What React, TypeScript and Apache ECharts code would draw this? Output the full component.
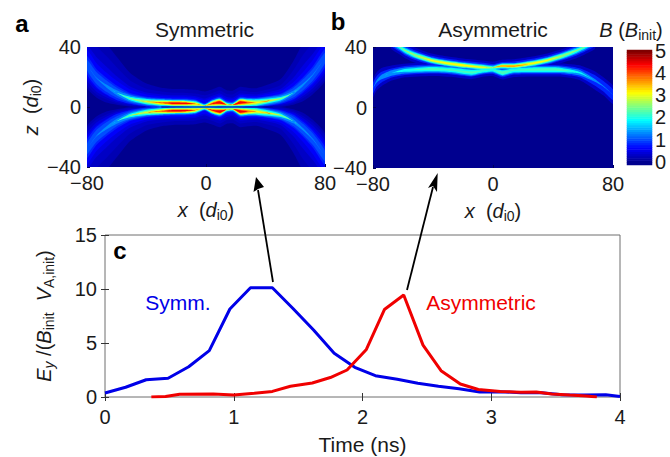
import React, { useEffect, useRef } from "react";
import * as echarts from "echarts";

// Panel c: time series
const timeBlue = [0, 0.16, 0.32, 0.49, 0.65, 0.81, 0.97, 1.13, 1.3, 1.46, 1.62, 1.78, 1.94, 2.1, 2.27, 2.43, 2.59, 2.75, 2.91, 3.07, 3.23, 3.39, 3.55, 3.72, 3.89, 4];
const valueBlue = [0.37, 0.9, 1.6, 1.73, 2.8, 4.3, 8.15, 10.12, 10.12, 8.2, 6.2, 4.05, 2.75, 1.97, 1.64, 1.27, 1.0, 0.77, 0.46, 0.49, 0.4, 0.4, 0.2, 0.18, 0.2, 0.05];
const timeRed = [0.36, 0.47, 0.58, 0.84, 1, 1.16, 1.3, 1.44, 1.61, 1.75, 1.88, 2.03, 2.17, 2.32, 2.47, 2.61, 2.76, 2.9, 3.07, 3.23, 3.35, 3.47, 3.61, 3.74, 3.82];
const valueRed = [0, 0.05, 0.25, 0.28, 0.18, 0.35, 0.52, 1.0, 1.3, 1.8, 2.5, 4.4, 8.1, 9.45, 4.8, 2.44, 1.2, 0.7, 0.52, 0.43, 0.46, 0.28, 0.18, 0.09, 0];

// Panel a: ridge of B, sampled along x (d_i0); mirrored sheet below. Contour half-thicknesses in d_i0.
const symX = [-80, -73.7, -67, -60, -51, -40, -30, -22, -14, -7, -1, 4, 9.3, 14, 18, 23, 28, 34, 50, 58.7, 65.4, 72, 80];
const symZ = [28, 19.4, 14, 9.5, 5.7, 3.6, 2.8, 2.5, 2.4, 2, 0.9, 2.2, 3, 1.6, 1.4, 3, 2.9, 3, 5.5, 9.5, 15, 21.7, 32.7];
const symOut02 = [22, 28, 28, 24, 17, 12, 10, 9.5, 9.5, 9.5, 9.5, 9.5, 10.5, 9.5, 9.5, 10.5, 10, 9.5, 13, 21, 28, 28, 22];
const symIn02 = [15, 13, 11, 8, 5.5, 3.6, 2.8, 2.5, 2.4, 2, 0.9, 2.2, 3, 1.6, 1.4, 3, 2.9, 3, 5.5, 8, 11, 13, 15];
const symOut03 = [17, 21, 20, 17, 12, 8.5, 7.5, 7, 7, 7, 7, 7, 8, 7, 7, 8, 7.5, 7, 9, 15, 20, 21, 17];
const symIn03 = [13, 11, 9, 7, 5, 3.5, 2.8, 2.5, 2.4, 2, 0.9, 2.2, 3, 1.6, 1.4, 3, 2.9, 3, 5, 7, 9, 11, 13];
const symOut045 = [13, 14, 13, 11, 8, 6, 5.6, 5.4, 5.4, 5.2, 4.8, 5.2, 6, 5, 4.8, 6, 5.7, 5.4, 6.5, 10, 13, 14, 13];
const symIn045 = [10, 9, 7.5, 6, 4.2, 3.2, 2.7, 2.4, 2.3, 2, 0.9, 2.1, 3, 1.6, 1.4, 3, 2.8, 2.9, 4.2, 6, 7.5, 9, 10];
const symOut06 = [10, 10, 9, 8, 6, 4.8, 4.4, 4.3, 4.3, 4.1, 3.6, 4.1, 4.9, 3.8, 3.6, 4.9, 4.6, 4.4, 5, 7, 8.5, 10, 10];
const symIn06 = [8, 7, 6, 5, 3.5, 3, 2.6, 2.4, 2.3, 2, 0.9, 2, 2.9, 1.6, 1.4, 2.9, 2.8, 2.8, 3.5, 5, 6, 7, 8];
const symHalf08 = [6, 6, 5.5, 4.8, 3.6, 3.2, 3.2, 3.2, 3.2, 3, 1.6, 3, 3.8, 2.5, 2.2, 3.8, 3.5, 3.4, 3.4, 4.4, 5, 5.6, 6];
const symHalf10 = [3.5, 4, 3.8, 3.3, 2.8, 2.7, 2.8, 2.8, 2.8, 2.5, 1.2, 2.6, 3.3, 2, 1.8, 3.3, 3.1, 3, 2.8, 3.2, 3.6, 3.8, 3.5];
const symHalf13 = [0, 0.3, 1, 1.6, 2.1, 2.2, 2.4, 2.4, 2.4, 2.2, 0.9, 2.2, 2.9, 1.5, 1.4, 2.9, 2.7, 2.5, 2.1, 1.4, 0.8, 0.3, 0];
const symHalf19 = [0, 0, 0, 0, 1.2, 1.8, 2, 2, 2, 1.8, 0.7, 1.9, 2.5, 1.2, 1, 2.5, 2.2, 2.1, 1.2, 0, 0, 0, 0];
const symHalf25 = [0, 0, 0, 0, 0.3, 1.1, 1.5, 1.6, 1.6, 1.3, 0.3, 1.5, 2.1, 0.8, 0.6, 2.1, 1.8, 1.5, 0.5, 0, 0, 0, 0];
const symHalf31 = [0, 0, 0, 0, 0, 0.2, 1.1, 1.3, 1.3, 0.8, 0, 1.1, 1.7, 0.3, 0.2, 1.7, 1.3, 0.6, 0, 0, 0, 0, 0];
const symHalf37 = [0, 0, 0, 0, 0, 0, 0.5, 1, 0.9, 0.2, 0, 0.7, 1.3, 0, 0, 1.3, 0.7, 0, 0, 0, 0, 0, 0];
const symHalf44 = [0, 0, 0, 0, 0, 0, 0, 0.5, 0.4, 0, 0, 0.2, 0.8, 0, 0, 0.8, 0.1, 0, 0, 0, 0, 0, 0];
const sheetSym = [[-30, 0], [0, 0], [45, 0]];

// Panel b: upper and lower ridges
const asymUX = [-68, -62.1, -58.8, -52.2, -41.1, -30, -19, -8, -0.2, 5.3, 14.1, 25.2, 36.2, 47.3, 56.1, 61.7, 68];
const asymUZ = [44, 40, 37.8, 34.7, 31.2, 29.2, 27.8, 26.7, 26.3, 27.4, 27.4, 29, 31.2, 34.5, 37.8, 40.4, 44];
const asymUHalf03 = [5, 5, 5, 5, 4.5, 4.5, 4.5, 4.5, 4, 4, 4.5, 4.5, 4.5, 4.5, 5, 5, 5];
const asymUHalf08 = [3.2, 3.2, 3.2, 3.2, 3, 3, 3, 3, 2.4, 2.6, 3, 3, 3, 3, 3.2, 3.2, 3.2];
const asymUHalf13 = [2.2, 2.2, 2.2, 2.2, 2.1, 2.1, 2.1, 2, 1.6, 1.9, 2, 2.1, 2.1, 2.2, 2.2, 2.2, 2.2];
const asymUHalf19 = [1.3, 1.3, 1.4, 1.6, 1.6, 1.6, 1.6, 1.5, 1, 1.4, 1.6, 1.6, 1.6, 1.6, 1.4, 1.3, 1.3];
const asymUHalf25 = [0, 0.3, 0.5, 0.9, 1.1, 1.2, 1.2, 1, 0.5, 1, 1.2, 1.2, 1.1, 0.9, 0.5, 0.3, 0];
const asymUHalf31 = [0, 0, 0, 0, 0.4, 0.6, 0.7, 0.4, 0, 0.6, 0.7, 0.6, 0.4, 0, 0, 0, 0];
const asymUHalf37 = [0, 0, 0, 0, 0, 0, 0, 0, 0, 0.3, 0.4, 0, 0, 0, 0, 0, 0];
const asymLX = [-80, -77.6, -74.3, -67.6, -58.8, -41.1, -27.8, -14.6, -6.9, -0.2, 6.4, 13, 25.2, 42.9, 51.7, 58.3, 67.2, 73.8, 80];
const asymLZ = [12.8, 17.2, 20.1, 22.8, 24.5, 25.4, 24.8, 23.2, 24.3, 24.8, 23, 24.5, 25, 25, 24.1, 22.8, 18.3, 13.9, 8.4];
const asymLHalf03 = [6, 6, 6, 5, 4.5, 4.5, 4.5, 4.5, 4, 4, 4.5, 4.5, 4.5, 4.5, 4.5, 5, 6, 6, 6];
const asymLHalf08 = [3.5, 3.5, 3.5, 3, 3, 3, 3, 2.8, 2.5, 2.5, 3, 2.8, 3, 3, 3, 3, 3.5, 3.5, 3.5];
const asymLHalf13 = [0, 0.8, 1.5, 1.8, 2, 2.2, 2.2, 2.3, 1.8, 1.7, 2.2, 2, 2.2, 2.2, 2, 1.8, 1, 0.3, 0];
const asymLHalf19 = [0, 0, 0, 0, 0.9, 1.4, 1.4, 1.6, 1.2, 1, 1.6, 1.3, 1.5, 1.5, 1, 0.5, 0, 0, 0];
const asymLHalf22 = [0, 0, 0, 0, 0, 0.7, 0.5, 0.7, 0.3, 0.2, 1, 0.3, 0.7, 0.8, 0.2, 0, 0, 0, 0];

const colorbarLevels = ["-0.1", "0", "0.1", "0.2", "0.3", "0.4", "0.5", "0.6", "0.7", "0.8", "0.9", "1", "1.1", "1.2", "1.3", "1.4", "1.5", "1.6", "1.7", "1.8", "1.9", "2", "2.1", "2.2", "2.3", "2.4", "2.5", "2.6", "2.7", "2.8", "2.9", "3", "3.1", "3.2", "3.3", "3.4", "3.5", "3.6", "3.7", "3.8", "3.9", "4", "4.1", "4.2", "4.3", "4.4", "4.5", "4.6", "4.7", "4.8", "4.9", "5"];
const jet = ["#00008f", "#0000ff", "#0080ff", "#00ffff", "#80ff80", "#ffff00", "#ff8000", "#ff0000", "#800000"];

const FONT = "Liberation Sans";
type Band = { level: number; xs: number[]; zs: number[]; up: number[]; down: number[] };

function band(level: number, xs: number[], zs: number[], up: number[], down?: number[]): Band {
  return { level, xs, zs, up, down: down || up };
}
const symBandDefs: [number, number[], number[]?][] = [
  [0.2, symOut02, symIn02], [0.3, symOut03, symIn03], [0.45, symOut045, symIn045], [0.6, symOut06, symIn06],
  [0.8, symHalf08], [1.0, symHalf10], [1.3, symHalf13],
  [1.9, symHalf19], [2.5, symHalf25], [3.1, symHalf31], [3.7, symHalf37], [4.4, symHalf44],
];
const symBands: Band[] = symBandDefs.flatMap(([lv, o, i]) => [
  band(lv, symX, symZ, o, i),
  band(lv, symX, symZ.map((z) => -z), i || o, o),
]);
const asymBands: Band[] = [
  band(0.3, asymLX, asymLZ, asymLHalf03), band(0.3, asymUX, asymUZ, asymUHalf03),
  band(0.8, asymLX, asymLZ, asymLHalf08), band(0.8, asymUX, asymUZ, asymUHalf08),
  band(1.3, asymLX, asymLZ, asymLHalf13), band(1.3, asymUX, asymUZ, asymUHalf13),
  band(1.9, asymLX, asymLZ, asymLHalf19), band(1.9, asymUX, asymUZ, asymUHalf19),
  band(2.2, asymLX, asymLZ, asymLHalf22),
  band(2.5, asymUX, asymUZ, asymUHalf25), band(3.1, asymUX, asymUZ, asymUHalf31), band(3.7, asymUX, asymUZ, asymUHalf37),
];

function contourSeries(gridIndex: number, bands: Band[]) {
  return {
    type: "custom" as const,
    xAxisIndex: gridIndex,
    yAxisIndex: gridIndex,
    coordinateSystem: "cartesian2d",
    silent: true,
    clip: true,
    data: bands.map((_, i) => [i]),
    renderItem: (params: any, api: any) => {
      const b = bands[params.dataIndex];
      const top = b.xs.map((x, i) => api.coord([x, b.zs[i] + b.up[i]]));
      const bottom = b.xs.map((x, i) => api.coord([x, b.zs[i] - b.down[i]])).reverse();
      return {
        type: "polygon",
        shape: { points: [...top, ...bottom], smooth: 0.2 },
        style: { fill: echarts.color.lerp(b.level / 5, jet), stroke: "none" },
      };
    },
  };
}

const tickText = { fontFamily: FONT, fontSize: 20, color: "#1a1a1a" };
const nameRich = {
  i: { fontFamily: FONT, fontSize: 20, fontStyle: "italic" as const, lineHeight: 24, color: "#1a1a1a" },
  n: { fontFamily: FONT, fontSize: 20, lineHeight: 24, color: "#1a1a1a" },
  s: { fontFamily: FONT, fontSize: 14, lineHeight: 15, verticalAlign: "bottom" as const, color: "#1a1a1a" },
  si: { fontFamily: FONT, fontSize: 14, fontStyle: "italic" as const, lineHeight: 15, verticalAlign: "bottom" as const, color: "#1a1a1a" },
};
const minus = (v: number) => (v < 0 ? "\u2212" + Math.abs(v) : String(v));
const panelTick = { inside: true, length: 3, lineStyle: { color: "#00005a" } };

function panelAxes(gridIndex: number, yName: string) {
  return {
    x: {
      type: "value" as const, gridIndex, min: -80, max: 80, interval: 80,
      name: "{i|x}{n|  (}{i|d}{s|i0}{n|)}", nameLocation: "middle" as const, nameGap: 31,
      nameTextStyle: { rich: nameRich },
      axisLine: { show: false, onZero: false }, splitLine: { show: false },
      axisTick: panelTick,
      axisLabel: { ...tickText, margin: 6, formatter: minus },
    },
    y: {
      type: "value" as const, gridIndex, min: -40, max: 40, interval: 40,
      name: yName, nameLocation: "middle" as const, nameRotate: 90, nameGap: 40,
      nameTextStyle: { rich: nameRich },
      axisLine: { show: false, onZero: false }, splitLine: { show: false },
      axisTick: panelTick,
      axisLabel: { ...tickText, margin: 6, formatter: minus },
    },
  };
}

function label(x: number, y: number, text: string, extra: any = {}) {
  return {
    type: "text" as const, x, y, silent: true,
    style: { text, fontFamily: FONT, fontSize: 21, fill: "#1a1a1a", align: "center", verticalAlign: "middle", ...extra },
  };
}
const letter = { fontSize: 24, fontWeight: "bold", fill: "#000" };

export default function App() {
  const ref = useRef<HTMLDivElement>(null);
  useEffect(() => {
    const chart = echarts.init(ref.current!, undefined, { renderer: "svg" });
    const a = panelAxes(0, "{i|z}{n|  (}{i|d}{s|i0}{n|)}");
    const b = panelAxes(1, "");
    chart.setOption({
      animation: false,
      backgroundColor: "#fff",
      textStyle: { fontFamily: FONT },
      grid: [
        { left: 87, top: 47, width: 238, height: 120, show: true, backgroundColor: "#00008f", borderWidth: 0 },
        { left: 373, top: 47, width: 240, height: 121, show: true, backgroundColor: "#00008f", borderWidth: 0 },
        { left: 105, top: 235, width: 515, height: 162, show: true, backgroundColor: "#fff", borderColor: "#6e6e6e", borderWidth: 1 },
        { left: 627, top: 50, width: 25, height: 115 },
      ],
      xAxis: [
        a.x, b.x,
        {
          type: "value", gridIndex: 2, min: 0, max: 4, interval: 1,
          name: "Time (ns)", nameLocation: "middle", nameGap: 37,
          nameTextStyle: { fontFamily: FONT, fontSize: 21, color: "#1a1a1a" },
          axisLine: { show: false }, splitLine: { show: false },
          axisTick: { inside: true, length: 4, lineStyle: { color: "#333" } },
          axisLabel: { ...tickText, margin: 10 },
        },
        { type: "category", gridIndex: 3, data: ["B"], show: false },
        {
          type: "value", gridIndex: 2, min: 0, max: 4, interval: 1, position: "top",
          axisLine: { show: false }, splitLine: { show: false },
          axisTick: { inside: true, length: 4, lineStyle: { color: "#333" } }, axisLabel: { show: false },
        },
      ],
      yAxis: [
        a.y, b.y,
        {
          type: "value", gridIndex: 2, min: 0, max: 15, interval: 5,
          name: "{i|E}{si|y}{n| /(}{i|B}{s|init}{n|  }{i|V}{s|A,init}{n|)}", nameLocation: "middle", nameRotate: 90, nameGap: 49,
          nameTextStyle: { rich: nameRich },
          axisLine: { show: false }, splitLine: { show: false },
          axisTick: { inside: true, length: 4, lineStyle: { color: "#333" } },
          axisLabel: { ...tickText, margin: 8 },
        },
        {
          type: "category", gridIndex: 3, data: colorbarLevels, position: "right",
          axisLine: { show: false }, axisTick: { show: false }, splitLine: { show: false },
          axisLabel: {
            ...tickText, margin: 3,
            interval: (_: number, v: string) => Number.isInteger(Number(v)) && Number(v) >= 0,
          },
        },
        {
          type: "value", gridIndex: 2, min: 0, max: 15, interval: 5, position: "right",
          axisLine: { show: false }, splitLine: { show: false },
          axisTick: { inside: true, length: 4, lineStyle: { color: "#333" } }, axisLabel: { show: false },
        },
      ],
      visualMap: {
        show: false, type: "continuous", min: 0, max: 5, dimension: 2, seriesIndex: 0,
        inRange: { color: jet }, outOfRange: { color: jet[0] },
      },
      series: [
        {
          type: "heatmap", xAxisIndex: 3, yAxisIndex: 3, silent: true,
          data: colorbarLevels.map((v, i) => [0, i, Math.max(0, Number(v))]),
        },
        contourSeries(0, symBands),
        {
          type: "line", xAxisIndex: 0, yAxisIndex: 0, symbol: "none", silent: true,
          data: sheetSym, lineStyle: { width: 1.2, color: "#0000a0" },
        },
        contourSeries(1, asymBands),
        {
          type: "line", name: "Symm.", xAxisIndex: 2, yAxisIndex: 2, symbol: "none", silent: true,
          data: timeBlue.map((t, i) => [t, valueBlue[i]]),
          lineStyle: { width: 3, color: "#0000e8" },
        },
        {
          type: "line", name: "Asymmetric", xAxisIndex: 2, yAxisIndex: 2, symbol: "none", silent: true,
          data: timeRed.map((t, i) => [t, valueRed[i]]),
          lineStyle: { width: 3, color: "#f00000" },
        },
      ],
      graphic: [
        label(22, 23, "a", letter),
        label(338, 21, "b", letter),
        label(120, 250, "c", letter),
        label(204.5, 29, "Symmetric"),
        label(493, 29, "Asymmetric"),
        label(631, 30, "{i|B}{n| (}{i|B}{s|init}{n|)}", { rich: nameRich }),
        label(178, 302, "Symm.", { fill: "#0000e8" }),
        label(481, 302, "Asymmetric", { fill: "#f00000" }),
        { type: "line", silent: true, shape: { x1: 273, y1: 282, x2: 258, y2: 190 }, style: { stroke: "#000", lineWidth: 1.8 } },
        { type: "polygon", silent: true, shape: { points: [[256, 177], [253.5, 192], [258, 189], [264, 187]] }, style: { fill: "#000" } },
        { type: "line", silent: true, shape: { x1: 407, y1: 290, x2: 433, y2: 187 }, style: { stroke: "#000", lineWidth: 1.8 } },
        { type: "polygon", silent: true, shape: { points: [[437.7, 173], [428, 188], [433, 186], [437, 192]] }, style: { fill: "#000" } },
      ],
    });
    return () => chart.dispose();
  }, []);
  return <div ref={ref} style={{ position: "fixed", left: 0, top: 0, width: 670, height: 457 }} />;
}
